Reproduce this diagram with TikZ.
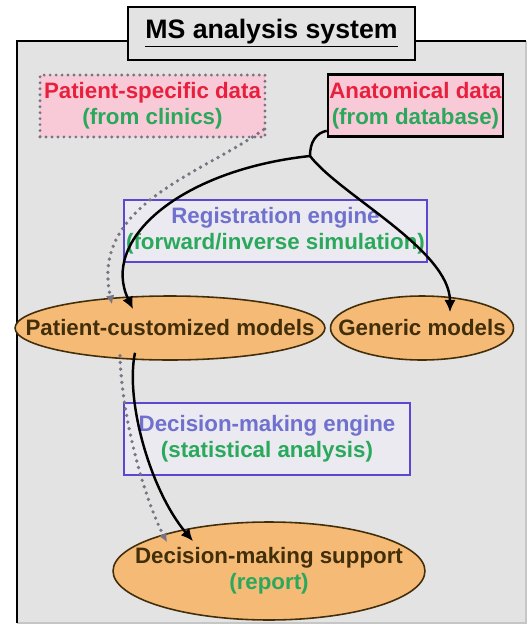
\documentclass[tikz,border=0pt]{standalone}
\usepackage{fontspec}
\setmainfont{Liberation Sans}
\usetikzlibrary{shapes.geometric,arrows.meta}
\definecolor{bggray}{RGB}{227,227,227}
\definecolor{pinkfill}{RGB}{248,202,216}
\definecolor{redtxt}{RGB}{232,32,62}
\definecolor{greentxt}{RGB}{42,168,92}
\definecolor{bluetxt}{RGB}{112,112,206}
\definecolor{blueline}{RGB}{92,72,208}
\definecolor{enginefill}{RGB}{234,234,240}
\definecolor{orangefill}{RGB}{245,186,118}
\definecolor{browntxt}{RGB}{66,46,8}
\definecolor{dotgray}{RGB}{120,116,130}

\begin{document}
\begin{tikzpicture}[x=0.02cm,y=-0.02cm,
   every node/.style={font=\bfseries\fontsize{12.7}{15}\selectfont, align=center, inner sep=0pt},
   titlebox/.style={draw, line width=1.3pt, fill=bggray, minimum width=5.74cm, minimum height=1.06cm,
      font=\bfseries\fontsize{15.2}{18}\selectfont},
   databox/.style={fill=pinkfill, minimum height=1.24cm},
   enginebox/.style={draw=blueline, line width=1.1pt, fill=enginefill},
   model/.style={ellipse, draw=browntxt, line width=0.9pt, fill=orangefill, text=browntxt,
      inner xsep=-1cm, inner ysep=0pt},
   flow/.style={line width=1.4pt, -{Latex[length=7pt,width=6.5pt]}},
   dotflow/.style={dotgray, line width=2.1pt, dash pattern=on 0pt off 3.8pt, line cap=round,
      -{Latex[length=5pt,width=5pt]}}]
   \useasboundingbox (0,0) rectangle (530,629);
   \fill[bggray] (17,41) rectangle (526,623);
   \draw[gray!45, line width=1pt] (526,41) -- (526,623) -- (17,623);
   \draw[line width=1.3pt] (17,623) -- (17,41) -- (526,41);

   \node[titlebox] (title) at (271.5,33.5) {\underline{MS analysis system}};

   \node[databox, minimum width=4.5cm, draw=dotgray, line width=1.8pt, dash pattern=on 0pt off 3.4pt,
      line cap=round] (pat) at (152.5,106) {\textcolor{redtxt}{Patient-specific data}\\\textcolor{greentxt}{(from clinics)}};
   \node[databox, minimum width=3.5cm, draw, line width=1.4pt] (anat) at (415.5,105.5)
      {\textcolor{redtxt}{Anatomical data}\\\textcolor{greentxt}{(from database)}};

   \node[enginebox, minimum width=6.06cm, minimum height=1.24cm] (reg) at (275.5,231)
      {\textcolor{bluetxt}{Registration engine}\\\textcolor{greentxt}{(forward/inverse simulation)}};

   \node[model, minimum width=6.2cm, minimum height=1.28cm] (pcm) at (170,328) {Patient-customized models};
   \node[model, minimum width=3.66cm, minimum height=1.28cm] (gen) at (422,328) {Generic models};

   \node[enginebox, minimum width=5.72cm, minimum height=1.44cm] (dec) at (267,439)
      {\textcolor{bluetxt}{Decision-making engine}\\\textcolor{greentxt}{(statistical analysis)}};

   \node[model, minimum width=6.24cm, minimum height=1.96cm] (sup) at (269,571)
      {Decision-making support\\\textcolor{greentxt}{(report)}};

   \coordinate (fork) at (310,156);
   \draw[line width=1.4pt] ([yshift=0.14cm]anat.south west) .. controls (316,133) and (310,142) .. (fork);
   \draw[flow] (fork) .. controls (180,170) and (100,240) .. ([xshift=-0.74cm,yshift=-0.28cm]pcm.north);
   \draw[flow] (fork) .. controls (340,195) and (450,250) .. ([xshift=0.56cm,yshift=-0.34cm]gen.north);
   \draw[dotflow] ([xshift=-0.06cm,yshift=0.18cm]pat.south east) .. controls (200,175) and (90,205) ..
      ([xshift=-1.16cm,yshift=-0.18cm]pcm.north);

   \draw[dotflow] ([xshift=-1cm,yshift=0.1cm]pcm.south) .. controls (122,420) and (145,500) ..
      ([xshift=-2.04cm,yshift=-0.42cm]sup.north);
   \draw[flow] ([xshift=-0.7cm,yshift=0.16cm]pcm.south) .. controls (125,400) and (150,490) ..
      ([xshift=-1.52cm,yshift=-0.4cm]sup.north);
\end{tikzpicture}
\end{document}
